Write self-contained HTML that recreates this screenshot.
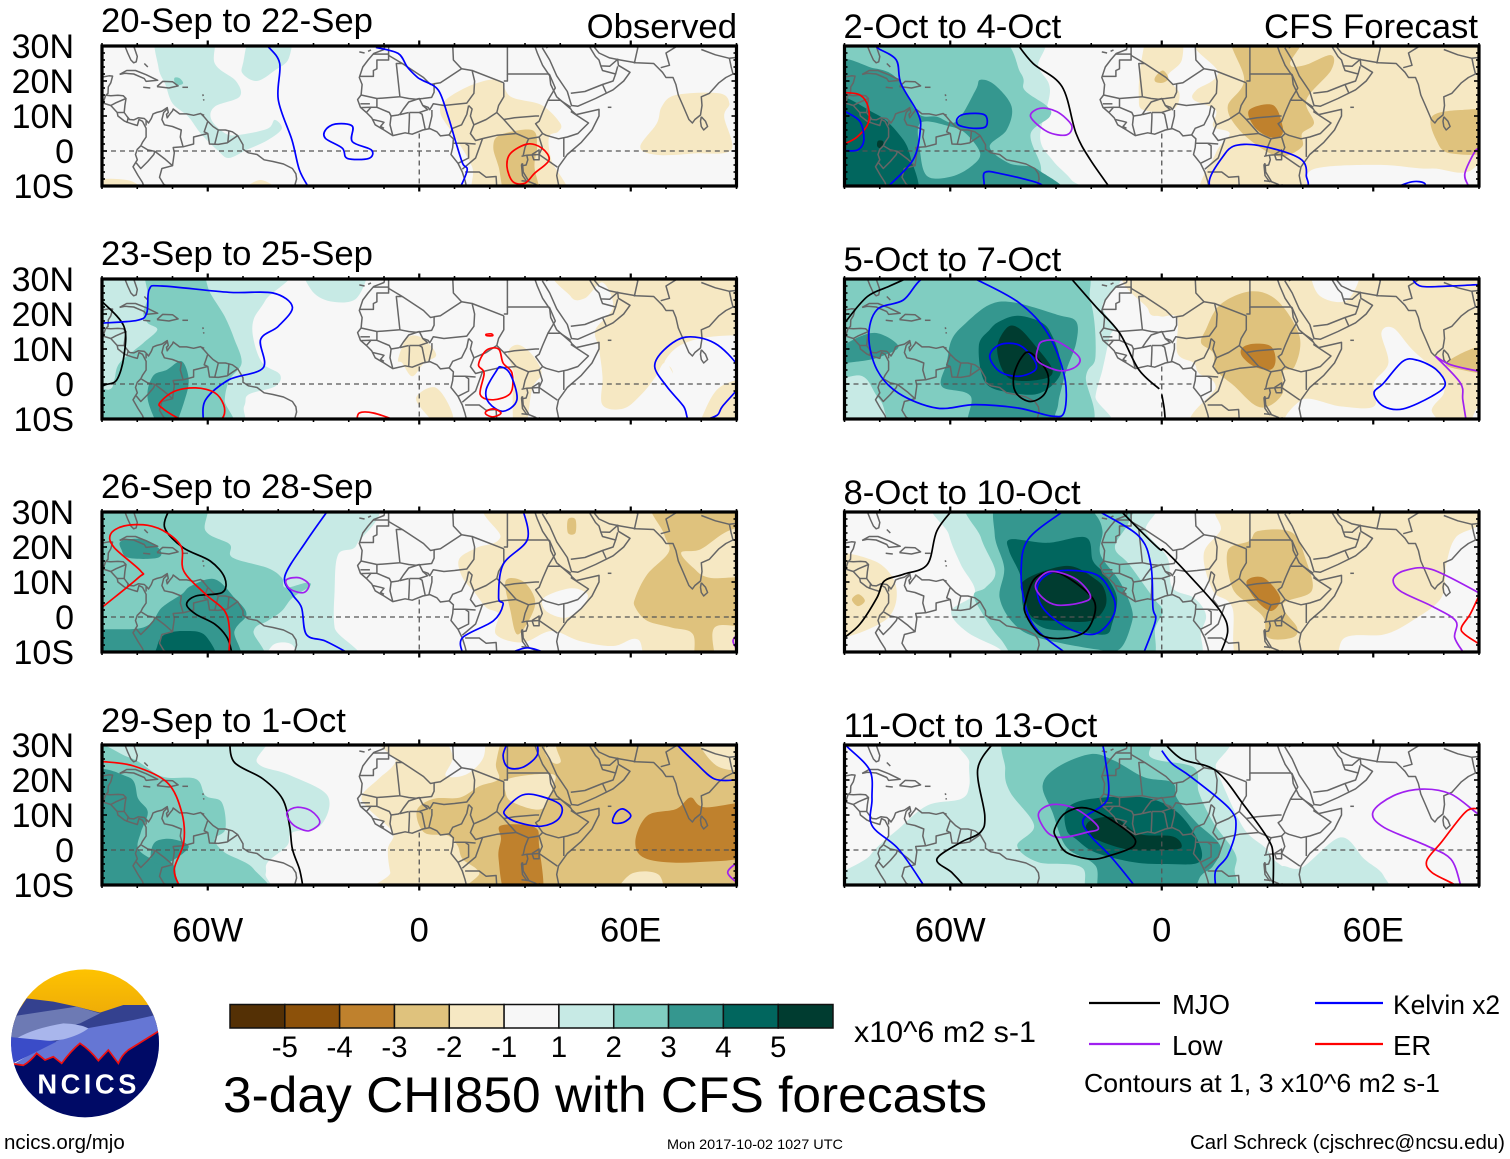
<!DOCTYPE html>
<html lang="en">
<head>
<meta charset="utf-8">
<title>3-day CHI850 with CFS forecasts</title>
<style>
html,body{margin:0;padding:0;background:#fff;width:1510px;height:1159px;overflow:hidden}
svg{display:block}
text{font-family:"Liberation Sans",Arial,sans-serif;fill:#000}
</style>
</head>
<body>
<svg id="root" xmlns="http://www.w3.org/2000/svg" width="1510" height="1159" viewBox="0 0 1510 1159">
  <g id="panels"></g>

  <g transform="translate(0,960) scale(0.33333)">
    <defs>
      <clipPath id="logoClip"><circle cx="255" cy="250" r="222"/></clipPath>
      <linearGradient id="sunGrad" x1="0" y1="0" x2="0" y2="1"><stop offset="0" stop-color="#ffc400"/><stop offset="1" stop-color="#eaa60a"/></linearGradient>
    </defs>
    <g clip-path="url(#logoClip)">
      <rect x="20" y="20" width="480" height="180" fill="url(#sunGrad)"/>
      <path d="M80,115 L160,125 L230,140 L300,158 L370,135 L445,135 L490,170 L490,260 L20,260 L50,160Z" fill="#34418f"/>
      <path d="M30,170 L130,155 L230,140 L300,160 L240,190 L60,240 L20,240Z" fill="#6d7ab4"/>
      <path d="M490,160 L400,180 L260,205 L130,260 L45,310 L20,330 L20,400 L490,400Z" fill="#6576d4"/>
      <path d="M50,235 Q100,205 190,190 Q240,192 265,205 Q240,225 190,238 Q110,250 50,235Z" fill="#a9b6ec"/>
      <path d="M20,230 L170,245 L120,270 L50,305 L20,320Z" fill="#3a4cc8"/>
      <path d="M20,312 L70,316 Q90,305 110,280 L135,300 L160,290 L185,310 Q215,270 240,250 Q270,270 295,302 L325,270 L355,310 Q365,285 385,270 L490,205 L490,500 L20,500Z" fill="#000a66"/>
      <path d="M30,310 L70,316 Q90,305 110,280 L135,300 L160,290 L185,310 Q215,270 240,250 Q270,270 295,302 L325,270 L355,310 Q365,285 385,270 L490,205" fill="none" stroke="#ee1111" stroke-width="5"/>
    </g>
    <text x="112" y="400" font-size="82" font-weight="bold" textLength="297" lengthAdjust="spacing" style="fill:#fff">NCICS</text>
  </g>

  <g id="colorbar"></g>
  <text x="854" y="1042" font-size="29.7" textLength="182" lengthAdjust="spacingAndGlyphs">x10^6 m2 s-1</text>
  <text x="223" y="1112" font-size="50.5" textLength="764" lengthAdjust="spacingAndGlyphs">3-day CHI850 with CFS forecasts</text>
  <text x="4" y="1149" font-size="20.5">ncics.org/mjo</text>
  <text x="667" y="1149" font-size="13.6" textLength="176" lengthAdjust="spacingAndGlyphs">Mon 2017-10-02 1027 UTC</text>
  <text x="1190" y="1149" font-size="20" textLength="315" lengthAdjust="spacingAndGlyphs">Carl Schreck (cjschrec@ncsu.edu)</text>

  <g>
    <line x1="1089" y1="1003" x2="1160" y2="1003" stroke="#000" stroke-width="2.2"/>
    <text x="1172" y="1014" font-size="27.5">MJO</text>
    <line x1="1089" y1="1044" x2="1160" y2="1044" stroke="#a020f0" stroke-width="2.2"/>
    <text x="1172" y="1055" font-size="27.5">Low</text>
    <line x1="1315" y1="1003" x2="1383" y2="1003" stroke="#0000ff" stroke-width="2.2"/>
    <text x="1393" y="1014" font-size="26.4">Kelvin x2</text>
    <line x1="1315" y1="1044" x2="1383" y2="1044" stroke="#ff0000" stroke-width="2.2"/>
    <text x="1393" y="1055" font-size="27.5">ER</text>
    <text x="1084" y="1092" font-size="26" textLength="356" lengthAdjust="spacingAndGlyphs">Contours at 1, 3 x10^6 m2 s-1</text>
  </g>
</svg>

<script>
/* ---------- labels ---------- */
const panelTitles = ["20-Sep to 22-Sep","23-Sep to 25-Sep","26-Sep to 28-Sep","29-Sep to 1-Oct","2-Oct to 4-Oct","5-Oct to 7-Oct","8-Oct to 10-Oct","11-Oct to 13-Oct"];
const latTicks = [30,20,10,0,-10];
const latTickLabels = ["30N","20N","10N","0","10S"];
const lonTicks = [-60,0,60];
const lonTickLabels = ["60W","0","60E"];
const colorbarLevels = [-5,-4,-3,-2,-1,0,1,2,3,4,5];
const colorbarLabels = ["-5","-4","-3","-2","-1","1","2","3","4","5"];

/* ---------- geography [lon,lat] ---------- */
const coastLines = [
 [[-83.5,30],[-82.7,28],[-81.8,26],[-81,25.2],[-80.3,25.5],[-80,27],[-81,30]],
 [[-90,21.1],[-88,21.5],[-87,21.4],[-87.5,19.5],[-88.2,18.3],[-88.3,16.5],[-88.9,15.9],[-87.5,15.8],[-85.5,15.9],[-84,15.8],[-83.2,15],[-83.5,13],[-83.7,11],[-83,10],[-82.2,9],[-81,8.9],[-79.7,9.5],[-78,9.3],[-77.3,8.6],[-76.8,8],[-76,9.3],[-75.5,10.6],[-74.5,11],[-73,11.4],[-71.5,12.4],[-71.2,11],[-71.7,10.5],[-71.5,9.5],[-70.8,10.5],[-70,11.5],[-69.8,12],[-68.5,11],[-68,10.6],[-66,10.6],[-64,10.2],[-62,10.7],[-61,9.7],[-60,8.5],[-58.5,7],[-57,6],[-55,6],[-53,5.5],[-51.5,4.4],[-50,1.8],[-50,0.5],[-48.5,-0.5],[-46,-1],[-44,-2.5],[-41.5,-3],[-38.5,-3.7],[-36,-5],[-35,-6.5],[-34.8,-8],[-35.5,-10.5]],
 [[-90,13.8],[-87.5,13],[-85.7,11],[-85.5,10],[-83.7,8.6],[-82.8,8.2],[-81,7.6],[-80,7.3],[-79.5,9],[-78.5,8.5],[-78,7.5],[-77.5,6.5],[-77.5,4],[-78.5,2.5],[-79,1.5],[-80,0.5],[-80.5,-1],[-80,-2.5],[-81.2,-4.5],[-79.8,-7],[-78.5,-9],[-78,-10.5]],
 [[-85,21.9],[-83,23],[-80.5,23],[-77.5,21.8],[-74.2,20.2],[-77.5,19.9],[-78,20.7],[-81,22],[-83.5,22.2],[-85,21.9]],
 [[-74.4,18.4],[-72.8,19.9],[-70,19.8],[-68.4,18.6],[-71,18],[-74.4,18.4]],
 [[-78.3,18.2],[-76.3,18]],[[-67.2,18.2],[-65.6,18.2]],[[-78,25],[-77,24]],[[-61.4,16.2],[-61.3,15.7]],[[-61.2,14.8],[-61.1,14.4]],[[-61.7,10.5],[-61,10.2]],[[-17,28.3],[-15.5,28]],[[-14.5,28.5],[-13.7,28.9]],[[53.5,12.5],[54.5,12.5]],
 [[-71.5,12],[-72.5,11],[-73,9],[-72.3,7.5],[-70,7],[-67.5,6],[-67.8,4],[-67,1.2],[-69.8,1],[-69.5,-0.5],[-70,-4.2]],
 [[-60,8.5],[-61,5.5],[-60,5],[-59.5,2],[-57,1.9],[-54.5,2.3],[-51.5,4.4]],
 [[-57,6],[-58,2]],[[-54,5.7],[-54.3,2.3]],
 [[-60,5],[-64,4],[-64,2],[-67,1.2]],
 [[-78.8,1.4],[-77,0.3],[-75,-0.1],[-72,-2.4],[-70,-4.2],[-73,-5],[-73.7,-7.5],[-72.5,-9.5],[-70.5,-10.5]],
 [[-80.3,-3.4],[-79,-5],[-77,-3],[-75.3,-1],[-75,-0.1]],
 [[-83.2,15],[-86,13.8],[-87.5,13]],[[-83.7,11],[-85.7,11]],[[-82.6,9.5],[-82.9,8]],[[-77.5,8.6],[-77.5,7.3]],[[-89,15.8],[-89.5,14.3],[-90,14]],
 [[-9.7,30.5],[-10,29],[-12.9,27.9],[-14.5,26],[-16,24],[-17,21],[-16.2,19],[-16.5,16],[-17.5,14.7],[-16.7,12.5],[-15,11],[-13.5,9.5],[-12.5,7.5],[-10,6],[-7.5,4.4],[-4,5.2],[-2,4.8],[1,6],[3,6.4],[5,5.5],[6,4.3],[8.5,4.6],[9.7,3.5],[9.5,1],[9,-1],[11,-3.5],[12.2,-6],[13,-8.5],[13.5,-10.5]],
 [[32.6,30.5],[33.5,28],[35,24.5],[37,21.5],[37.3,19],[39,15.5],[43,12],[43.3,11.5],[44.5,10.4],[51,11.9],[51,10],[49,6],[46,2.5],[42,-1],[39.5,-4.5],[39,-7],[39.7,-10.5]],
 [[34.9,29.5],[37,26],[39,21.5],[42,17],[43.2,13],[45,12.8],[50,15],[55,17.5],[58,20],[59.8,22.5],[56.5,24.5],[56.3,26.2],[54,24.2],[51.5,24.3],[51,26],[50,27],[48.5,29.5],[48,30.5]],
 [[49,30.5],[51,28],[54,26.6],[57,26],[61.5,25.2],[66.5,25],[67.5,24],[69,22.5],[70,21],[72,21],[72.8,19],[73.5,16],[74.8,13],[76.5,9],[77.5,8],[78.2,9],[79.8,10.3],[80.2,13],[80,15.5],[82.3,16.5],[85,19.5],[87,21],[89,22],[90.5,22]],
 [[80,9.8],[81.2,8.5],[81.8,7],[80.7,6],[80,7],[79.8,8.5],[80,9.8]],
 [[61,25],[62,29.5],[61,30.5]],[[68.5,23.8],[71,24.5],[70,28],[74,30.5]],[[80,29],[84,27.5],[88,26.5],[90.5,26.8]],[[88,26.5],[88.5,24],[89,22]],
 [[36,29.5],[38,30.5]],[[43,16.5],[47,17],[52,19],[55,20],[55.7,22],[52,23],[51.5,24.3]],[[55.7,22],[56.3,24.2]],[[52,19],[53,16.7]],
 [[-8.7,27.7],[-13,27.7]],[[-8.7,27.7],[-8.7,26],[-12,26],[-12,23.5],[-13,23],[-13,21.3],[-17,21.3]],
 [[-8.7,27.3],[-4.8,25],[-6.5,25],[-5.5,15.5],[-12,15],[-16.5,16]],
 [[-8.7,30.5],[-8.7,27.3]],
 [[-4.8,25],[1.2,21],[3.2,19],[4.2,19.2],[6,19.5],[12,23.5],[9.7,26],[9.5,30.5]],
 [[-5.5,15.5],[-3,15],[-1,14.8],[1,15],[3.5,15.3],[4.2,16.8],[4.2,19.2]],
 [[12,23.5],[15,23],[15.7,20],[15.5,16.5],[13.5,13.7],[10,13.3],[7,13],[4,13.5],[3,11.8],[2.5,12.5],[1,13]],
 [[15,23],[24,19.5]],[[25,30.5],[25,22],[36.9,22]],[[24,20],[25,20],[25,22]],
 [[24,19.5],[24,15.5],[22.5,13],[22,11],[19,9],[15.5,7.5],[14.5,10],[15,12],[14,13]],
 [[22,11],[24,9],[27.5,5],[22,4.5],[18.5,3.7],[16,3],[14.5,5],[15.5,7.5]],
 [[8.5,4.6],[9.5,6.5],[12,7.5],[13.5,10.5],[14,13]],
 [[2.7,6.3],[3.6,10],[3.6,11.7]],[[1.7,6.2],[0.8,10.5],[0,11],[-2.8,11]],[[-3,5],[-2.8,9.5],[-2.8,11]],
 [[-5.5,10.4],[-3,11]],[[0,11],[2.4,11.8],[1,13],[0,15],[-3,14],[-4.5,12],[-5.5,10.5]],
 [[-12,15],[-12,12.5],[-8.5,11],[-8,10],[-6,10.3],[-5.5,10.5]],[[-7.5,4.4],[-8.3,7.5],[-8,10]],
 [[-13.2,9],[-11,8.5],[-10,8.2],[-11,7],[-10,6.5]],[[-16.7,12.4],[-13.7,12.5],[-15,11]],[[-13.7,12.5],[-12,12.5]],[[-16.7,13.5],[-14,13.5]],
 [[9.7,2.2],[13,2.2],[14,1.5],[14,-2],[11,-3.5]],[[13,2.2],[16,2]],[[12.2,-5.2],[16,-2],[18,3.7]],
 [[13,-6],[17,-6],[19,-7.5],[21.8,-7.3],[22,-10.5]],
 [[29.5,-1.3],[30,1],[31,3.5],[27.5,5]],[[31,3.5],[34,4],[34.9,1],[34,-1]],
 [[24,9],[27,9.5],[33,10],[34,10]],
 [[36.9,22],[38.6,18],[36.5,14.5],[35,11],[34,8.5],[33,7.8],[35,5]],[[36.5,14.5],[40,14.5],[43,12.5]],
 [[43,11.3],[48,8],[45,5],[42,4],[39.5,3.5],[36,4.5],[35,5],[34,4]],[[41,-1.7],[41,3.9]],[[34,-1],[39.2,-4.6]],
 [[32,-1],[34,0.3],[34,-2.5],[32.5,-2.5],[32,-1]],[[29.3,-3.5],[29.5,-6],[31,-8.5],[30.5,-8.7],[29.3,-7],[29,-4],[29.3,-3.5]],
 [[29,-1.5],[30.5,-1.2],[30.8,-2.5],[30.3,-4],[29.3,-4.2]],[[29,-8.5],[31,-8.7],[33,-9.5],[34,-10.5]],[[34,-9.5],[34.5,-10.5]],[[30.5,-1.2],[34,-1]]
];

/* ---------- CHI850 shading: [level, [[lon,lat],...]] ---------- */
const p1Fills = [
 [1,[[-74,31],[-59,31],[-58,25],[-52,20],[-51,15.5],[-58,12.7],[-59,9],[-55,5],[-51,4.6],[-43,6.4],[-41,8.9],[-39,6.4],[-43,3.1],[-49,0.3],[-54,-2],[-57,0],[-62,5],[-65.5,9.8],[-70,13.6],[-72,19],[-74,24]]],
 [1,[[-50,25],[-47,31],[-37,31],[-37,26.5],[-41,23],[-46,20],[-50,22]]],
 [2,[[-69.5,20.8],[-68,20.8],[-67,19.3],[-69,18.8]]],
 [-1,[[-91,-8.7],[-82,-8.5],[-78,-11],[-91,-11]]],
 [-1,[[-52,-11],[-45,-8.3],[-38,-11]]],
 [-1,[[7.5,14.6],[15,18.9],[22.5,20.3],[26,15.5],[34.7,13.1],[40,7.9],[39.4,5.5],[36.8,4],[37.5,-2.6],[41.6,-11],[17,-11],[15,-4.5],[9.5,5],[6,10.8]]],
 [-2,[[23,4.6],[32,6],[33.4,1.2],[32.7,-4.5],[34,-11],[25.2,-11],[22.5,-4.5],[21,1.2]]],
 [-1,[[68.8,12.7],[72.8,16],[85,16.5],[88,13.6],[86.5,9.8],[88.5,0.3],[78.3,-0.7],[67.4,-1.1],[62.7,1.2],[67.4,7.9]]]
];
const p2Fills = [
 [1,[[-91,31],[-38.8,31],[-43.6,24],[-47,18.4],[-47,12.7],[-44.5,6],[-39.5,2.7],[-40.9,-0.7],[-48.4,-3],[-49.7,-6.4],[-53.8,-11],[-91,-11]]],
 [1,[[-32,31],[-30.7,27],[-25.2,23.6],[-17.7,24.6],[-15.7,31]]],
 [2,[[-77,31],[-63.3,31],[-59.3,26],[-55.2,19.3],[-52.4,12.7],[-50.4,6],[-53.8,1.2],[-55.2,-4.5],[-55.2,-11],[-91,-11],[-91,-1],[-88,-1.6],[-86.5,1.2],[-85,6],[-78.3,11.7],[-74.3,15.5],[-77,17.4],[-78.3,20.3],[-77,25]]],
 [3,[[-67.4,6.5],[-65.4,1.2],[-66.8,-5.4],[-70.2,-11],[-72.9,-11],[-77,-4.5],[-75.6,2.2],[-71.5,4.1]]],
 [-1,[[41,31],[43,25],[47,24.5],[52,29],[55,22],[50,15.5],[51,10],[52,2],[52,-6],[58,-7],[63,-3],[67,2],[69.5,6],[72,3],[80,-11],[91,-11],[91,31]]],
 [0,[[69.5,6],[74.3,11.2],[83.8,13.6],[91,12.7],[91,3.6],[84.5,-1.6],[77.7,-11],[72,-11],[72,3]]],
 [-1,[[-6,7],[-3.4,13.2],[0.7,13.2],[4.8,8.4],[1.4,6],[-2,2.2],[-4.8,6]]],
 [-1,[[-0.7,-3.5],[4.8,-1.1],[9.5,-8.8],[8,-11],[1,-7.5]]],
 [-1,[[25.2,8.9],[28,11.2],[32,8.4],[34.7,3.1],[32,-1.6],[30,-11],[27,-11],[26.5,-3.5],[27,2.2]]]
];
const p3Fills = [
 [1,[[-91,31],[-17,31],[-17.7,20.8],[-23,17.9],[-24,7.4],[-24,-3],[-21,-11],[-91,-11]]],
 [2,[[-91,31],[-62.7,31],[-60.6,24.6],[-53.8,20.8],[-53,17],[-43,14],[-39,11.2],[-38,8.4],[-32,9.8],[-31,8.8],[-36,5.5],[-39,1.7],[-43,-1.1],[-47,-4],[-47,-11],[-91,-11]]],
 [0,[[-43.6,-11],[-41.5,-8],[-36,-8],[-34.7,-11]]],
 [3,[[-84.5,21.7],[-78.3,22.2],[-73.6,19.3],[-74.3,16.9],[-82.4,16.9],[-84.5,19.3]]],
 [3,[[-91,-4.5],[-78.3,-3],[-73,2.7],[-67.4,6.5],[-64.7,8.9],[-58,10.8],[-52.4,5.5],[-49,0.8],[-52.4,-4],[-53.8,-11],[-91,-11]]],
 [4,[[-74.3,-8.3],[-72.2,-5],[-66.8,-4],[-60.6,-5.4],[-57.9,-11],[-74.3,-11]]],
 [-1,[[23,31],[23,22.7],[16.3,19.8],[11.3,16.5],[12.3,11.2],[15.7,7],[19,2.7],[22.5,0.8],[21.8,-5],[29.3,-7.3],[37.5,-4],[45.6,-6.9],[55,-8.3],[62,-6.4],[67.4,-11],[91,-11],[91,31]]],
 [0,[[35.4,5.5],[43,8.2],[47.7,6.5],[46.3,3.1],[41.6,-0.2],[36,1.7]]],
 [-2,[[66.8,31],[69.5,23.6],[70.8,18.6],[64.7,12.2],[61.3,5.5],[61.3,2.7],[64.7,-1.1],[71.5,-3],[77.7,-5],[78.3,-11],[83.8,-11],[83.8,-3],[91,-1.9],[91,10.3],[82.4,11.2],[77.7,14.1],[74.3,18.4],[79.7,19.3],[86.5,24],[91,28],[91,31]]],
 [-2,[[24.5,10.3],[29.3,10.3],[32.7,5.5],[32,0.8],[27.9,-5],[25.9,1.7]]],
 [-2,[[42.2,27.9],[44.3,27.9],[44.3,24],[42.2,24]]]
];
const p4Fills = [
 [1,[[-91,31],[-46,31],[-46,25],[-37,21.5],[-26,15.5],[-28,7],[-36,5],[-37.5,1.2],[-43,-3.5],[-43.6,-6.9],[-45.6,-11],[-91,-11]]],
 [2,[[-91,27.4],[-82.4,26.5],[-73,21],[-63.4,20.3],[-60.6,15.5],[-56,13.6],[-55,6],[-58,3.1],[-55.2,-0.7],[-47,-5.4],[-45.6,-11],[-91,-11]]],
 [3,[[-91,20.3],[-82.4,20.8],[-79.7,14.6],[-77,10.8],[-79,5],[-79.7,0.3],[-75,-3],[-70,-4],[-69,-8],[-68.9,-11],[-91,-11]]],
 [3,[[-75,2.2],[-70,3.1],[-65.4,0.8],[-72,-4],[-76,-2.6]]],
 [-1,[[-3.4,31],[-6.8,25],[-11.6,20.3],[-16.3,15.5],[-14.3,11.7],[-7.5,5],[-8.9,0.3],[-8.2,-6.4],[-6,-11],[91,-11],[91,31]]],
 [0,[[7.5,31],[9.5,26.5],[7.5,21.2],[13.6,21.7],[18.4,27],[17,31]]],
 [-2,[[-0.7,11.2],[4,14.6],[11.6,15],[17,18.2],[22.5,20.3],[21.8,25],[25.2,31],[34.7,31],[36,27],[40,25],[43.6,31],[91,31],[91,-11],[18.4,-11],[17,-6.4],[12.3,-2.6],[10.9,1.2],[8.2,4.1],[1.4,5]]],
 [-1,[[25.2,20.3],[37.5,21.7],[38,18.4],[34.7,11.7],[26.6,13.6],[24.5,16.5]]],
 [-1,[[55.9,-11],[60,-6.9],[68,-7.1],[68,-11]]],
 [-1,[[83.8,-11],[91,-7.3],[91,-11]]],
 [-1,[[79,31],[84.5,24],[91,24],[91,31]]],
 [-3,[[23.2,7],[32.7,6.5],[34,1.2],[34.7,-11],[25.2,-11],[22.5,-2.6],[23.2,3.1]]],
 [-3,[[77,15],[81,12.2],[91,12.7],[91,-0.7],[78.3,-3.5],[64.7,-2.6],[61.3,2.2],[64.7,9.8],[72.9,11.7]]]
];
const p5Fills = [
 [1,[[-91,31],[-37.9,31],[-35,24],[-31.7,17.4],[-34.5,4],[-31,-2.6],[-25.6,-8.3],[-23,-11],[-91,-11]]],
 [2,[[-91,31],[-50,31],[-40,22.2],[-38.9,17.4],[-32.4,12.7],[-31.8,9.8],[-37.2,4.9],[-34.5,-3.5],[-33.8,-7.3],[-30.4,-11],[-91,-11]]],
 [3,[[-81.5,23.6],[-74.7,20.3],[-69.2,10.8],[-63.8,9.8],[-58.3,8.4],[-52.8,17.4],[-51.5,20.3],[-47.4,18.9],[-42.6,12.7],[-44,6],[-48.8,1.2],[-43.3,-3.5],[-35,-5.4],[-31,-11],[-91,-11],[-91,23.6]]],
 [2,[[-68.5,8],[-60,7],[-55.6,5],[-51.5,-0.7],[-54.2,-4.5],[-59.6,-7.3],[-66.4,-7.3],[-68.5,-0.7]]],
 [4,[[-91,14.6],[-81.5,10.8],[-74.7,5],[-71.3,-1.6],[-70.6,-11],[-91,-11]]],
 [5,[[-80.5,2.9],[-79,2.7],[-79.5,0.8],[-80.7,1.3]]],
 [-1,[[-3.1,31],[5,31],[5.7,26],[1.6,21.2],[5,16.5],[3,11.7],[-5.2,11.7],[-6.5,15.5],[-5.9,25]]],
 [-2,[[-1.8,21.2],[0.3,23],[1.9,20.8],[0.3,19.5],[-1.8,19.8]]],
 [-1,[[13.9,31],[16,22.2],[9.8,17.4],[9.1,14.6],[15.3,11.7],[14.6,7],[19.3,5],[15.3,-0.7],[11.9,-11],[39.8,-11],[41,-6.9],[46.6,-4.5],[63,-4],[76.6,-5],[90.2,-2.6],[91,31]]],
 [-2,[[20,31],[39.8,31],[36.4,25],[40.5,24.5],[48,27.4],[48,23],[41,14.6],[43.2,8],[39.8,5],[39.8,1.2],[34.3,-1.6],[29,0.3],[22,6],[18.7,12.7],[23.4,20.3]]],
 [-3,[[24.8,11.7],[31.6,13.1],[34.3,7],[33.6,4.1],[30.2,4.1],[26.2,7]]],
 [-2,[[76.6,9.8],[84.7,11.7],[91,10.8],[91,0.3],[82,-0.7],[77.9,3.1]]]
];
const p6Fills = [
 [1,[[-91,27],[-86,31],[-16,31],[-16.8,22.2],[-13.4,16.5],[-14.7,13.6],[-16.8,4.1],[-18.8,-3.5],[-19.5,-11],[-91,-11]]],
 [2,[[-82.8,31],[-27,31],[-20.2,23.6],[-18.8,7.9],[-21.5,2.2],[-22.9,-11],[-70.6,-11],[-80,-4.5],[-84.9,2.2],[-91,3.1],[-91,25]]],
 [3,[[-90,11.2],[-81.5,14.6],[-74.7,10.8],[-79.5,7.9],[-85.6,6.5],[-91,6]]],
 [3,[[-48.8,22.7],[-42,23.3],[-29.7,19.8],[-24.3,17.9],[-24.3,11.7],[-27,4.1],[-29,-3.5],[-30,-8],[-33.8,-11],[-54,-11],[-54.2,-3.5],[-62.4,-0.7],[-61,6],[-59.6,12.7],[-55.6,17.4]]],
 [4,[[-46,17.9],[-40.6,19.5],[-33.8,17.4],[-31,13.6],[-29,7.9],[-29,2.2],[-34.5,-2.6],[-42,-2.6],[-50,0.3],[-51.9,10.8],[-48.8,15.5]]],
 [5,[[-44,16],[-40.6,16],[-35.8,10.8],[-31,4.1],[-33.8,1.4],[-43.3,1.7],[-46.7,9.8]]],
 [-1,[[-3.8,31],[-3.8,21.2],[-0.4,19.3],[4.4,18.9],[4.4,8.9],[9.1,6],[10.5,3.1],[15.3,-0.7],[13.2,-11],[91,-11],[91,31]]],
 [0,[[43.2,31],[44.5,25.5],[52.7,24],[56,31]]],
 [0,[[37,-11],[39.8,-4.5],[50.7,-6.4],[60.2,-6.4],[60.2,0.3],[64.3,6],[62.3,14.6],[65.7,16],[71.1,9.8],[79.3,2.2],[80,-2.6],[76.6,-7.3],[76.6,-11]]],
 [0,[[87.5,-11],[90.2,-6.4],[91,-11]]],
 [-2,[[12.5,15.5],[16.6,22.7],[25.5,26.5],[33,23.6],[39.1,13.6],[37.7,5],[34.3,3.6],[34.3,-2.6],[30.2,-6.4],[26.2,-5.9],[20.7,-0.7],[15.3,4.1],[14.6,8.9],[11.2,11.7]]],
 [-3,[[22.8,10.3],[26.2,11.5],[30.9,10.8],[32.3,7],[30.9,4.1],[26.2,5],[22.8,7.9]]],
 [-2,[[80.7,6],[88.8,10.3],[91,9.8],[91,3.1],[84.7,4.1]]]
];
const p7Fills = [
 [1,[[-61.7,31],[-60.4,23.6],[-57,15],[-53,7],[-59.7,1.7],[-55.6,-4],[-47.4,-8.3],[-35,-11],[7,-11],[11.2,-4],[12.5,0.8],[9.1,5.5],[3,8.4],[1.6,17],[-4.5,24.6],[-5.2,31]]],
 [2,[[-53.3,31],[-51.3,22.7],[-47.2,13],[-50,8.4],[-53.3,6.5],[-51.3,1.7],[-46,-6],[-36.5,-11],[-5.2,-11],[-1.8,-3],[0.3,1.7],[-2.4,5.5],[-9.2,15],[-13.3,20],[-9.2,27.6],[-10.6,31]]],
 [3,[[-45.4,31],[-47.4,23.6],[-44.7,14],[-46,5.5],[-41.9,-2],[-35.1,-5.9],[-18.8,-9.2],[-12,-9.2],[-8.6,-2],[-8.6,2.7],[-12,10.3],[-17.4,17.9],[-16.8,24.6],[-18.8,29.3],[-24.2,31]]],
 [4,[[-42.8,22.2],[-32.4,21.2],[-21.5,22.7],[-19.5,16],[-16.1,12.2],[-12.7,5.5],[-14.1,-2],[-16.1,-5],[-24.2,-4],[-33.8,-3],[-39.2,2.7],[-39.9,11.2],[-43.3,18.9]]],
 [5,[[-39.2,10.3],[-27,14.6],[-18.8,10.8],[-16.1,7.4],[-16.1,2.7],[-20.2,-1.1],[-29.7,-1.1],[-36.5,-0.2],[-38.6,4.6]]],
 [-1,[[-91,16.5],[-81.5,16],[-75.3,8.4],[-78.7,-1.1],[-91,-5]]],
 [-2,[[-87.9,5],[-86,6.5],[-84.2,4.6],[-86.2,3.1]]],
 [-1,[[22,31],[16.6,24.6],[11.9,17.9],[14.6,7.4],[20,2.7],[22.8,-11],[46.6,-11],[52,-5.9],[63,-5],[71,-1.1],[79.3,5.5],[80.7,15],[83.4,22.7],[90.2,26.5],[91,31]]],
 [-2,[[27.5,24.6],[37,24.1],[41,16],[42.5,7.4],[34.3,3.6],[38.4,-3],[37,-5.9],[30.2,-5.9],[28.9,-0.2],[24.8,3.6],[20,8.4],[18.7,18.9],[24.8,21.7]]],
 [-3,[[24.1,10.3],[28.9,11.2],[33.6,5.5],[30.9,1.7],[26.2,5.5]]]
];
const p8Fills = [
 [1,[[-52.9,31],[-54.6,25],[-54.6,18.4],[-56.9,14.6],[-66.5,12.7],[-74.7,6],[-82.8,-1.6],[-89.6,-11],[30.9,-11],[30.9,-1.6],[23.4,6],[16.6,20.3],[15.3,24],[14.6,31]]],
 [1,[[32.3,-11],[33.6,-5],[39.8,-5],[50.7,3.6],[57.5,-2.6],[62.9,-7.3],[62.9,-11]]],
 [2,[[-41.9,31],[-5.2,31],[-3.1,26.5],[9.1,23.6],[10.5,16.5],[14.6,7.9],[20.7,-0.7],[20.7,-5.4],[18,-11],[-18,-11],[-22.7,-5],[-35,-3.5],[-41,1.2],[-36.2,7],[-43,16.5],[-44.4,23.1]]],
 [3,[[-20.2,27.4],[-13.4,25.5],[-5,20.8],[3,19.3],[4.4,14.6],[9.8,7.9],[16.6,1.2],[14.6,-4.5],[11.2,-7.3],[5.7,-11],[-16.1,-11],[-18.8,-4.5],[-27,0.8],[-31,10.8],[-33.8,18.4],[-29.7,23.6]]],
 [4,[[-27,11.7],[-20.2,14.6],[-5,15],[4.4,10.8],[10.5,2.2],[10.5,-3.5],[1.6,-4],[-7.9,-3.5],[-18.8,-0.7],[-24.3,3.1],[-27,5.7]]],
 [5,[[-20.2,8.4],[-13.4,9.3],[-6.5,4.6],[3,3.9],[5.7,1.2],[3,0.1],[-9.2,0.1],[-18.8,3.1],[-21.5,5.5]]]
];
const panelFills = [p1Fills,p2Fills,p3Fills,p4Fills,p5Fills,p6Fills,p7Fills,p8Fills];

/* ---------- wave contours: [wave, closed(1)/open(0), [[lon,lat],...]] ---------- */
const p1Contours = [
 ["kelvin",0,[[-43.5,31],[-43,30],[-39.6,25],[-40,14.6],[-36.1,3.1],[-34,-5.4],[-31.3,-10.5],[-30.5,-11.5]]],
 ["kelvin",1,[[-26.6,6],[-23.8,7.7],[-19,7.1],[-19,2.7],[-13.6,0.3],[-14.3,-2.1],[-20.4,-2.1],[-21.8,0.8],[-26.6,3.6]]],
 ["kelvin",0,[[-12.3,29.6],[-6,27.9],[-3.4,24],[-0.7,21.2],[0.7,20.3],[5.4,17.4],[8.2,9.8],[10.2,3.1],[12.3,-3.5],[13.6,-5.4],[11.6,-10.5],[11,-11.5]]],
 ["er",1,[[30.7,2],[34.8,0.8],[36.8,-2.6],[32.7,-6.4],[30,-9.2],[26.6,-8.8],[24.9,-4.5],[25.9,-0.7]]]
];
const p2Contours = [
 ["mjo",0,[[-91,24.5],[-90,23.6],[-83.8,16.5],[-83.8,7.9],[-85.8,1.2],[-89,-0.2],[-91,-1]]],
 ["kelvin",0,[[-91,17.4],[-90,17.4],[-80,18.2],[-77.3,20.3],[-76.6,27],[-73,28],[-54,26.2],[-41.5,26],[-36,22],[-40,16.5],[-45,12.7],[-44.3,4.6],[-54,1.2],[-60.6,-4.5],[-61.3,-10.5],[-61.3,-11.5]]],
 ["er",1,[[-73.6,-5.4],[-69.5,-2.1],[-63.4,-1.1],[-58,-2.5],[-55.5,-5.9],[-55.5,-9.2],[-58,-10.8],[-66,-10.8],[-68.9,-9.5],[-72.9,-6.9]]],
 ["er",0,[[-17.7,-11.5],[-17.7,-10.7],[-17,-8.3],[-13,-8.3],[-6,-10.7],[-5,-11.5]]],
 ["er",1,[[19,14.2],[20.5,14.3],[20.8,13.8],[19.2,13.8]]],
 ["er",1,[[19,9.6],[22.5,10],[23.8,6],[26.3,3.1],[25.9,-2.6],[21,-4.5],[17.3,-3],[18.4,3.1],[16.8,5.5]]],
 ["kelvin",1,[[23.2,4.9],[25.9,2.7],[27.7,-4.5],[23.8,-7.8],[19.8,-5.4],[19,-1.6],[21.8,3.6]]],
 ["er",1,[[19,-7.8],[21,-7.1],[23.2,-8.3],[21,-9.4],[19,-8.7]]],
 ["kelvin",1,[[75.6,13.4],[83.8,11.7],[90.5,5],[91,0],[90.2,-1.6],[86,-6.4],[84,-9.2],[77,-10.7],[75,-6.4],[70.2,-0.7],[66.8,5],[69.5,9.8]]]
];
const p3Contours = [
 ["mjo",0,[[-70.8,31],[-72.2,25.5],[-67,19.8],[-59.3,16],[-55.2,11.2],[-55.9,7],[-63.4,6],[-66,3.6],[-63.4,0.8],[-57.9,-2.1],[-54.5,-5.9],[-53.1,-10.5],[-53,-11.5]]],
 ["er",0,[[-91,1.5],[-90,2.7],[-79.7,11.2],[-79,13.1],[-86.5,19.8],[-87.6,23.6],[-83.8,26],[-77,26.2],[-71.5,24],[-67.4,19.8],[-66.8,13.1],[-60.6,6.5],[-55.2,1.7],[-53.8,-4],[-54,-10.5],[-54,-11.5]]],
 ["kelvin",0,[[-25.5,31],[-32,21.7],[-38.1,11.7],[-36,6.5],[-33.4,2.7],[-32,-5],[-26.6,-6.9],[-19.8,-10.5],[-18.5,-11.5]]],
 ["low",1,[[-37.5,10.8],[-34,11.2],[-31.3,9.3],[-32.7,7],[-36,7.6],[-37.7,9.3]]],
 ["kelvin",0,[[29.3,31],[30.7,22.2],[23.8,15],[22.5,5.5],[23.8,3.6],[21,-1.1],[12.3,-5.9],[12.3,-10.5],[12.3,-11.5]]],
 ["kelvin",0,[[24,-11.5],[24.5,-11],[30.7,-8.8],[37.5,-11],[38,-11.5]]],
 ["low",0,[[91,-4.5],[90.2,-5],[89,-6.9],[90.2,-9.3],[91,-10]]]
];
const p4Contours = [
 ["mjo",0,[[-53.8,31],[-52.4,25],[-44.3,20.3],[-38.8,14.6],[-36.8,7],[-36,0.3],[-34,-5.4],[-33,-10.5],[-33,-11.5]]],
 ["er",0,[[-91,25.4],[-90,25.3],[-81,24],[-71.5,19.3],[-67.4,10.8],[-66.8,2.2],[-69.5,-5.4],[-68,-10.5],[-67.8,-11.5]]],
 ["low",1,[[-37.5,10.8],[-34.7,12.2],[-30.7,11.2],[-28.2,7.9],[-31.3,5.5],[-34.7,6.5],[-36.8,8.4]]],
 ["kelvin",0,[[25.2,31],[23.8,27],[25.2,23.6],[29.3,23.6],[33.4,27],[33.4,31]]],
 ["kelvin",1,[[24.5,11.7],[29.3,15.7],[34.7,15.3],[40.2,12.7],[39.5,8.9],[34.7,6.8],[28,7.9],[24.5,9.8]]],
 ["kelvin",1,[[54.9,7.9],[55.9,10.8],[57.9,11.7],[60,9.8],[57.9,7.9]]],
 ["kelvin",0,[[72.5,31],[73.2,30],[78.3,25],[83.8,20.3],[90.2,20],[91,20]]],
 ["low",0,[[91,-3],[87.5,-6.4],[91,-10]]]
];
const p5Contours = [
 ["mjo",0,[[-42,32],[-41.3,31],[-36.5,25],[-28.3,18.4],[-24.3,5],[-20.2,-2.6],[-14.7,-10.5],[-14,-11.5]]],
 ["kelvin",0,[[-81.5,30.5],[-80.4,29.3],[-75.3,26],[-74,19.3],[-69.2,10.8],[-68.5,6],[-70.6,-2.6],[-78,-10.5],[-79,-11.5]]],
 ["er",0,[[-91,16.8],[-89.6,16.7],[-85.6,16],[-83.3,12.7],[-83.3,7.9],[-86.3,4.1],[-89.6,2.2],[-91,1.7]]],
 ["kelvin",0,[[-91,12],[-89.6,11.2],[-85.6,8.4],[-84.5,3.1],[-86.2,0.3],[-89.6,0.1],[-91,0.1]]],
 ["kelvin",1,[[-58,9.3],[-55.6,10.6],[-50.2,10.3],[-49.9,7],[-53.5,6.5],[-57.6,7.4]]],
 ["low",1,[[-37.2,9.8],[-34.5,12.2],[-29.7,11.2],[-25.6,7.4],[-27,4.6],[-32.4,5.5]]],
 ["kelvin",0,[[-50.2,-11.5],[-50.4,-9.2],[-50.2,-6.1],[-46,-6.4],[-35,-9.2],[-33,-11.5]]],
 ["kelvin",1,[[14.6,-11],[18,-0.7],[23.4,1.9],[33,0.3],[39.8,-2.6],[41,-6.9],[39,-11]]],
 ["kelvin",0,[[65.5,-11.5],[66.3,-10.5],[71,-8.8],[74.5,-9.2],[75,-11.5]]],
 ["low",0,[[91,2],[90.2,0.8],[88.8,-0.2],[86,-6.4],[87,-10],[87.5,-11.5]]]
];
const p6Contours = [
 ["mjo",0,[[-91,15.5],[-89.6,17.9],[-83.5,25],[-77.4,27.9],[-70.6,31]]],
 ["kelvin",1,[[-68.1,30],[-73.3,24],[-80.8,21.2],[-83.1,13.6],[-80.8,4.1],[-74.7,-2.6],[-63.8,-6.9],[-52.9,-5.9],[-40.6,-6.9],[-31,-9.2],[-27.6,-7.8],[-27.6,2.2],[-32.4,14.6],[-40.6,23.3],[-52.9,30],[-60,33]]],
 ["kelvin",1,[[-48.8,7.9],[-46,11.2],[-40.6,11.2],[-36.5,7.4],[-35.8,4.1],[-40.6,2.2],[-46,3.6]]],
 ["mjo",1,[[-39.9,7.4],[-37.2,8.9],[-32.4,3.1],[-33.1,-2.6],[-37.2,-5],[-41.3,-2.6],[-42,2.2]]],
 ["low",1,[[-35.1,10.3],[-33.8,12.2],[-29.7,12.2],[-23.6,7.9],[-24.3,5],[-29,3.8],[-35.1,6.5]]],
 ["mjo",0,[[-26.5,31],[-25.6,30],[-18.8,22.2],[-12,14.6],[-6.5,4.1],[-0.7,-1.4]]],
 ["mjo",0,[[0,-3],[0.7,-7],[1,-10.7],[1,-11.5]]],
 ["kelvin",1,[[60.2,-2.6],[63,0.3],[68.4,6.5],[72.5,6.8],[77.9,4.1],[80.4,-0.2],[76.6,-3.5],[68.4,-7.1],[63,-6.4]]],
 ["kelvin",0,[[70,31],[71,30],[73.8,27.9],[82,28],[90.2,28.4],[91,28.4]]],
 ["low",0,[[77.7,7.9],[82,5.5],[90.2,3.6],[91,3.6]]],
 ["low",0,[[77.7,7.9],[84.7,0.3],[85.4,-4.5],[86.4,-10.7],[86.6,-11.5]]]
];
const p7Contours = [
 ["mjo",0,[[-59,31],[-63.8,24.6],[-66.5,15],[-73.3,12.2],[-78.7,10.3],[-80.8,5.5],[-85.6,-2],[-90,-5.9],[-91,-6.8]]],
 ["kelvin",0,[[-27.5,31],[-28.3,30],[-37.9,22.2],[-39.9,13],[-38.6,2.7],[-35.1,-4],[-27,-10.5],[-26,-11.5]]],
 ["kelvin",0,[[-18.5,31],[-17.4,30],[-6.5,23.1],[-3.1,15],[-2.5,2.7],[-1.8,-1.1],[-5.2,-10.5],[-5.5,-11.5]]],
 ["kelvin",1,[[-35.1,9.3],[-29.7,13.1],[-18.8,12.2],[-14.1,6.5],[-13.3,1.7],[-16.1,-3],[-20.2,-5],[-27,-3],[-33.8,2.7]]],
 ["mjo",1,[[-38.6,4.6],[-35.8,11.2],[-29.7,12.7],[-21.5,7.4],[-18.8,2.7],[-21.5,-4],[-28.3,-6.1],[-34.5,-5],[-38.6,0.8]]],
 ["low",1,[[-35.8,9.3],[-31.7,13],[-24.3,10.8],[-20.2,6],[-22.9,4.1],[-29.7,3.4],[-33.8,5.5]]],
 ["mjo",0,[[-12,31],[-11.3,30],[-1.1,19.8],[0.9,19],[8.4,11.2],[16.6,1.7],[18.7,-4],[16.6,-10.5],[16.2,-11.5]]],
 ["low",0,[[91,6],[89.8,7],[76.6,13.6],[69,13.3],[65.7,10.8],[67.7,7.4],[76.6,3.1],[83.4,-1.1],[83.1,-5.9],[85.8,-10.5],[86.2,-11.5]]],
 ["er",0,[[91,8],[90.2,6.5],[87.5,0.8],[85,-3],[86,-5],[90.2,-7.8],[91,-8.5]]]
];
const p8Contours = [
 ["kelvin",0,[[-91,31],[-89,29.3],[-82.8,22.7],[-82.2,14.6],[-82.2,7],[-74.7,0.3],[-67.8,-9.7],[-67,-11.5]]],
 ["mjo",0,[[-47.4,31],[-52.2,23.1],[-50.2,9.8],[-51.5,5],[-57,2.2],[-63.8,-2.6],[-59.6,-6.4],[-55.9,-10.5],[-55.5,-11.5]]],
 ["kelvin",0,[[-17,31],[-16,26],[-15.4,14.6],[-22.2,8.9],[-20.2,4.1],[-14.7,-1.6],[-7.5,-10.5],[-7,-11.5]]],
 ["low",1,[[-35,10.3],[-31,13],[-24.3,11.7],[-18,6.5],[-21.5,5],[-28.3,3.6],[-32.4,5]]],
 ["mjo",1,[[-30.4,6],[-27,10.8],[-20.2,11.7],[-9.3,5],[-7.9,1.2],[-14.7,-1.6],[-20.2,-2.6],[-27,-0.7],[-29.7,3.1]]],
 ["kelvin",0,[[0,28.4],[3,24.6],[8.4,20.8],[19.3,11.7],[21,6],[18.7,-1.6],[15.3,-5.9],[15.3,-10.5],[15.3,-11.5]]],
 ["mjo",0,[[0.3,31],[5.7,26],[15.3,22.7],[23.4,12.7],[30.2,3.1],[31.6,-1.6],[31.6,-10.5],[31.6,-11.5]]],
 ["low",0,[[91,11],[89.8,10.3],[82,16],[73.8,17.4],[65.7,15.5],[59.9,10.8],[63,6.5],[75.2,1.2],[82,-2.6],[84.7,-9.7],[85,-11.5]]],
 ["er",0,[[91,12.5],[89.8,11.9],[86.1,10.8],[79.3,2.2],[75.2,-3],[76.6,-6.4],[82.7,-9.7],[84,-11.5]]]
];
const panelContours = [p1Contours,p2Contours,p3Contours,p4Contours,p5Contours,p6Contours,p7Contours,p8Contours];

/* ---------- rendering ---------- */
const SVGNS = "http://www.w3.org/2000/svg";
function levelColor(v){
  if(v<=-5) return "#543005";
  if(v===-4) return "#8c510a";
  if(v===-3) return "#bf812d";
  if(v===-2) return "#dfc27d";
  if(v===-1) return "#f6e8c3";
  if(v===0) return "#f7f7f7";
  if(v===1) return "#c7eae5";
  if(v===2) return "#80cdc1";
  if(v===3) return "#35978f";
  if(v===4) return "#01665e";
  return "#003c30";
}
function waveColor(w){
  if(w==="mjo") return "#000000";
  if(w==="low") return "#a020f0";
  if(w==="kelvin") return "#0000ff";
  return "#ff0000";
}
function make(tag,attrs,parent){
  const e=document.createElementNS(SVGNS,tag);
  for(const k in attrs) e.setAttribute(k,attrs[k]);
  parent.appendChild(e);
  return e;
}
function smooth(pts,closed){
  const n=pts.length;
  const at=i=>closed?pts[(i+n)%n]:pts[Math.max(0,Math.min(n-1,i))];
  let d="M"+pts[0][0].toFixed(1)+","+pts[0][1].toFixed(1);
  const segs=closed?n:n-1;
  for(let i=0;i<segs;i++){
    const p0=at(i-1),p1=at(i),p2=at(i+1),p3=at(i+2);
    const c1x=p1[0]+(p2[0]-p0[0])/6,c1y=p1[1]+(p2[1]-p0[1])/6;
    const c2x=p2[0]-(p3[0]-p1[0])/6,c2y=p2[1]-(p3[1]-p1[1])/6;
    d+="C"+c1x.toFixed(1)+","+c1y.toFixed(1)+" "+c2x.toFixed(1)+","+c2y.toFixed(1)+" "+p2[0].toFixed(1)+","+p2[1].toFixed(1);
  }
  return d+(closed?"Z":"");
}
function extendEdge(p){
  let lon=p[0],lat=p[1];
  if(lon<=-91) lon=-95;
  if(lon>=91) lon=95;
  if(lat>=31) lat=34;
  if(lat<=-11) lat=-14;
  return [lon,lat];
}
const root=document.getElementById("panels");
const panelTops=[46,279,512,745];
const colLefts=[102,844.5];
const titleBaselines=[32,265,498,732,38,271,504,737];
const LON_SCALE=3.525, LAT_SCALE=3.5;

panelTitles.forEach(function(title,idx){
  const col=idx<4?0:1, row=idx%4;
  const L=colLefts[col], T=panelTops[row];
  const W=180*LON_SCALE, H=40*LAT_SCALE;
  const xOf=lon=>L+(lon+90)*LON_SCALE;
  const yOf=lat=>T+(30-lat)*LAT_SCALE;
  const g=make("g",{},root);
  
  
  const cp=make("clipPath",{id:"clip"+idx},g);
  make("rect",{x:L,y:T,width:W,height:H},cp);
  const plot=make("g",{"clip-path":"url(#clip"+idx+")"},g);
  
  
  const bg=make("rect",{x:L,y:T,width:W,height:H,fill:"#f7f7f7"},plot);
  
  

  panelFills[idx].forEach(function(f){
    const pts=f[1].map(extendEdge).map(p=>[xOf(p[0]),yOf(p[1])]);
    const s=make("path",{d:smooth(pts,true),fill:levelColor(f[0])},plot);
    
    
  });

  /* map lines */
  const coast=make("g",{fill:"none",stroke:"#666666","stroke-width":"1.5","stroke-linejoin":"round"},plot);
  
  
  coastLines.forEach(function(line){
    make("path",{d:"M"+line.map(p=>xOf(p[0]).toFixed(1)+","+yOf(p[1]).toFixed(1)).join("L")},coast);
  });

  /* equator and prime meridian */
  const eq1=make("line",{x1:xOf(-90),x2:xOf(9.5),y1:yOf(0),y2:yOf(0),stroke:"#555","stroke-width":"1.3","stroke-dasharray":"5 4"},plot);
  
  
  const eq2=make("line",{x1:xOf(43),x2:xOf(90),y1:yOf(0),y2:yOf(0),stroke:"#555","stroke-width":"1.3","stroke-dasharray":"5 4"},plot);
  
  
  const pm=make("line",{x1:xOf(0),x2:xOf(0),y1:yOf(5),y2:yOf(-10),stroke:"#555","stroke-width":"1.3","stroke-dasharray":"5 4"},plot);
  
  

  panelContours[idx].forEach(function(c){
    const pts=c[2].map(p=>[xOf(p[0]),yOf(p[1])]);
    const s=make("path",{d:smooth(pts,c[1]===1),fill:"none",stroke:waveColor(c[0]),"stroke-width":"1.7"},plot);
    
    
  });

  /* ticks */
  const ticks=make("g",{stroke:"#000","stroke-width":"1.6"},g);
  
  
  for(let lon=-90;lon<=90;lon+=10){
    const major=lon%60===0&&Math.abs(lon)<90;
    const len=major?5.5:3;
    make("line",{x1:xOf(lon),x2:xOf(lon),y1:T-len,y2:T,"stroke-width":major?2.2:1.6},ticks);
    make("line",{x1:xOf(lon),x2:xOf(lon),y1:T+H,y2:T+H+len,"stroke-width":major?2.2:1.6},ticks);
  }
  for(let lat=-10;lat<=30;lat+=2){
    const major=lat%10===0;
    const len=major?5:3;
    make("line",{x1:L,x2:L+len,y1:yOf(lat),y2:yOf(lat)},ticks);
    make("line",{x1:L+W-len,x2:L+W,y1:yOf(lat),y2:yOf(lat)},ticks);
  }
  const frame=make("rect",{x:L,y:T,width:W,height:H,fill:"none",stroke:"#000","stroke-width":"3.2"},g);
  
  

  const t=make("text",{x:L-1,y:titleBaselines[idx],"font-size":"34.7"},g);
  
  
  t.textContent=title;

  if(col===0){
    latTicks.forEach(function(lat,i){
      const lbl=make("text",{x:74,y:yOf(lat)+12,"text-anchor":"end","font-size":"34"},g);
      
      
      lbl.textContent=latTickLabels[i];
    });
  }
  if(row===3){
    lonTicks.forEach(function(lon,i){
      const lbl=make("text",{x:xOf(lon),y:941.5,"text-anchor":"middle","font-size":"34.5"},g);
      
      
      lbl.textContent=lonTickLabels[i];
    });
  }
});

/* panel corner headers */
const hdr1=make("text",{x:737,y:38,"text-anchor":"end","font-size":"34.7"},root);


hdr1.textContent="Observed";
const hdr2=make("text",{x:1478,y:38,"text-anchor":"end","font-size":"34.7"},root);


hdr2.textContent="CFS Forecast";

/* colorbar */
const cb=document.getElementById("colorbar");
const cbLeft=230, cbWidth=603, cbTop=1004.5, cbHeight=23.5;
const boxW=cbWidth/colorbarLevels.length;
colorbarLevels.forEach(function(level,i){
  const r=make("rect",{x:cbLeft+i*boxW,y:cbTop,width:boxW,height:cbHeight,fill:levelColor(level),stroke:"#111","stroke-width":"1.5"},cb);
  
  
});
colorbarLabels.forEach(function(lab,i){
  const t=make("text",{x:cbLeft+(i+1)*boxW,y:1057,"text-anchor":"middle","font-size":"29.5"},cb);
  
  
  t.textContent=lab;
});
</script>
</body>
</html>
